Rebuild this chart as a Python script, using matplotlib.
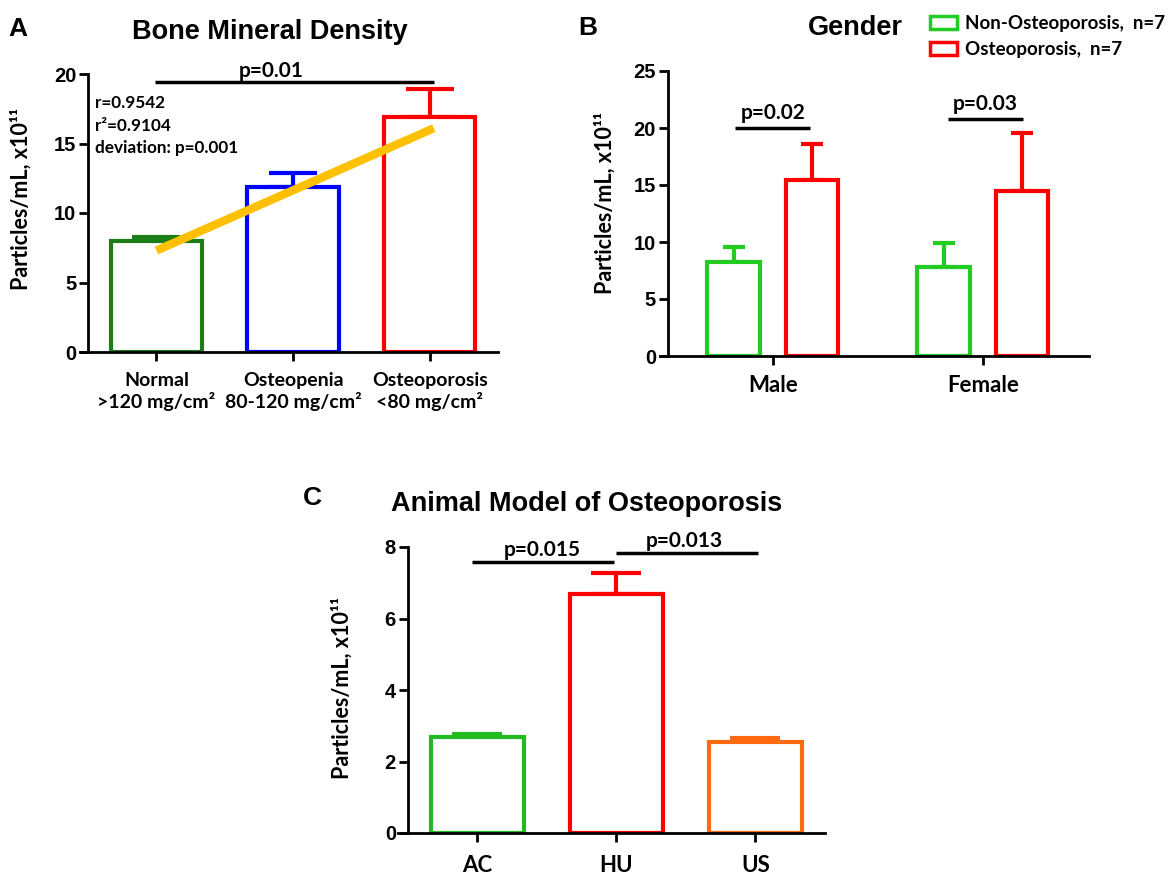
import matplotlib
matplotlib.use('Agg')
import matplotlib.pyplot as plt
from matplotlib.patches import Patch

# ---- data ----
# A: bone mineral density
bmd_labels = ['Normal\n>120 mg/cm²', 'Osteopenia\n80-120 mg/cm²', 'Osteoporosis\n<80 mg/cm²']
bmd_means = [8.0, 11.9, 16.9]
bmd_err = [0.3, 1.0, 2.0]
bmd_colors = ['#1a7d1a', '#0000ff', '#ff0000']
trend_x = [0.0, 2.03]
trend_y = [7.3, 16.1]

# B: gender
gender_labels = ['Male', 'Female']
non_op_means = [8.25, 7.8]
non_op_err = [1.3, 2.1]
op_means = [15.4, 14.5]
op_err = [3.2, 5.1]

# C: animal model
animal_labels = ['AC', 'HU', 'US']
animal_means = [2.69, 6.69, 2.55]
animal_err = [0.08, 0.58, 0.11]
animal_colors = ['#22bb22', '#ff0000', '#ff6a10']

TXT = ['Lato', 'DejaVu Sans']
NUM = ['Liberation Sans', 'DejaVu Sans']
YLAB = 'Particles/mL, x10¹¹'

fig = plt.figure(figsize=(11.7, 8.74), dpi=100)
W, H = 1170, 874


def add_ax(left, top, right, bottom):
    return fig.add_axes([left / W, 1 - bottom / H, (right - left) / W, (bottom - top) / H])


def style(ax, ymax, yticks, spine_x):
    # set_position resets the ticks, so do it before styling the labels
    for s in ['top', 'right']:
        ax.spines[s].set_visible(False)
    ax.spines['left'].set_position(('data', spine_x))
    ax.spines['left'].set_linewidth(2)
    ax.spines['bottom'].set_linewidth(2)
    ax.set_ylim(0, ymax)
    ax.set_yticks(yticks)
    ax.set_yticklabels([str(t) for t in yticks], fontfamily=NUM, fontweight='bold', fontsize=14.5)
    ax.tick_params(width=2, length=6.5, direction='out')
    ax.tick_params(axis='y', pad=2)


def bars(ax, x, h, err, colors, width, capsize):
    ax.bar(x, h, width=width, color='white', edgecolor=colors, linewidth=3, zorder=2)
    for xi, hi, ei, ci in zip(x, h, err, colors):
        ax.errorbar(xi, hi, yerr=[[0], [ei]], color=ci, elinewidth=3, capsize=capsize,
                    capthick=3, zorder=1.5)


def bracket(ax, x0, x1, y, text, tx, ty, size=15):
    ax.plot([x0, x1], [y, y], color='black', lw=2.5, solid_capstyle='butt', clip_on=False)
    ax.text(tx, ty, text, ha='center', va='baseline', fontsize=size, fontweight='bold',
            family=TXT)


# ---------------- Panel A ----------------
axA = add_ax(80, 74, 498, 352)
xa = list(range(len(bmd_means)))
bars(axA, xa, bmd_means, bmd_err, bmd_colors, 0.67, 17)
axA.plot(trend_x, trend_y, color='#ffc000', lw=6, solid_capstyle='butt', zorder=3)
axA.set_xlim(-0.56, 2.5)
style(axA, 20, [0, 5, 10, 15, 20], -0.5)
axA.set_xticks(xa)
axA.set_xticklabels(bmd_labels, fontsize=14, fontweight='bold', family=TXT, linespacing=1.15)
axA.tick_params(axis='x', pad=8)
axA.set_ylabel(YLAB, fontsize=15.5, fontweight='bold', family=TXT)
axA.yaxis.set_label_coords(-0.115, 0.55)
bracket(axA, -0.01, 2.03, 19.4, 'p=0.01', 0.84, 19.75)
for i, t in enumerate(['r=0.9542', 'r²=0.9104', 'deviation: p=0.001']):
    axA.text(-0.45, 17.55 - 1.63 * i, t, fontsize=12.3, fontweight='bold', family=TXT,
             va='baseline')

# ---------------- Panel B ----------------
axB = add_ax(660, 71, 1089, 356)
xb = list(range(len(gender_labels)))
off = 0.187
bars(axB, [x - off for x in xb], non_op_means, non_op_err, ['#22cc22'] * 2, 0.25, 8)
bars(axB, [x + off for x in xb], op_means, op_err, ['#ff0000'] * 2, 0.25, 8)
axB.set_xlim(-0.537, 1.505)
style(axB, 25, [0, 5, 10, 15, 20, 25], -0.5)
axB.set_xticks(xb)
axB.set_xticklabels(gender_labels, fontsize=16, fontweight='bold', family=TXT)
axB.tick_params(axis='x', pad=7)
axB.set_ylabel(YLAB, fontsize=15.5, fontweight='bold', family=TXT)
axB.yaxis.set_label_coords(-0.103, 0.537)
bracket(axB, -0.178, 0.178, 20.0, 'p=0.02', 0.0, 20.8)
bracket(axB, 1 - 0.168, 1 + 0.192, 20.8, 'p=0.03', 1.01, 21.6)
handles = [Patch(facecolor='white', edgecolor='#22cc22', linewidth=2.5),
           Patch(facecolor='white', edgecolor='#ff0000', linewidth=2.5)]
fig.legend(handles, ['Non-Osteoporosis,  n=7', 'Osteoporosis,  n=7'],
           loc='upper left', bbox_to_anchor=(930 / W, 1 - 15 / H), frameon=False,
           prop={'family': TXT, 'weight': 'bold', 'size': 13.5},
           borderpad=0, borderaxespad=0, handlelength=1.45, handleheight=0.7,
           handletextpad=0.4, labelspacing=0.5)

# ---------------- Panel C ----------------
axC = add_ax(398, 547, 825, 833)
xc = list(range(len(animal_means)))
bars(axC, xc, animal_means, animal_err, animal_colors, 0.67, 18)
axC.set_xlim(-0.57, 2.5)
style(axC, 8, [0, 2, 4, 6, 8], -0.5)
axC.set_xticks(xc)
axC.set_xticklabels(animal_labels, fontsize=16, fontweight='bold', family=TXT)
axC.tick_params(axis='x', pad=9)
axC.set_ylabel(YLAB, fontsize=15.5, fontweight='bold', family=TXT)
axC.yaxis.set_label_coords(-0.105, 0.507)
bracket(axC, -0.04, 0.98, 7.58, 'p=0.015', 0.47, 7.75)
bracket(axC, 1.0, 2.02, 7.83, 'p=0.013', 1.49, 8.0)

# ---------------- titles and panel letters ----------------
tkw = dict(ha='center', va='center', fontweight='bold', family=NUM)
fig.text(270 / W, 1 - 32 / H, 'Bone Mineral Density', fontsize=19.5, **tkw)
fig.text(855 / W, 1 - 28 / H, 'Gender', fontsize=19.5, **tkw)
fig.text(587 / W, 1 - 504 / H, 'Animal Model of Osteoporosis', fontsize=19.5, **tkw)
fig.text(18 / W, 1 - 29 / H, 'A', fontsize=19, **tkw)
fig.text(588 / W, 1 - 28 / H, 'B', fontsize=19, **tkw)
fig.text(312 / W, 1 - 498 / H, 'C', fontsize=19, **tkw)

fig.savefig('out.png', dpi=100)
